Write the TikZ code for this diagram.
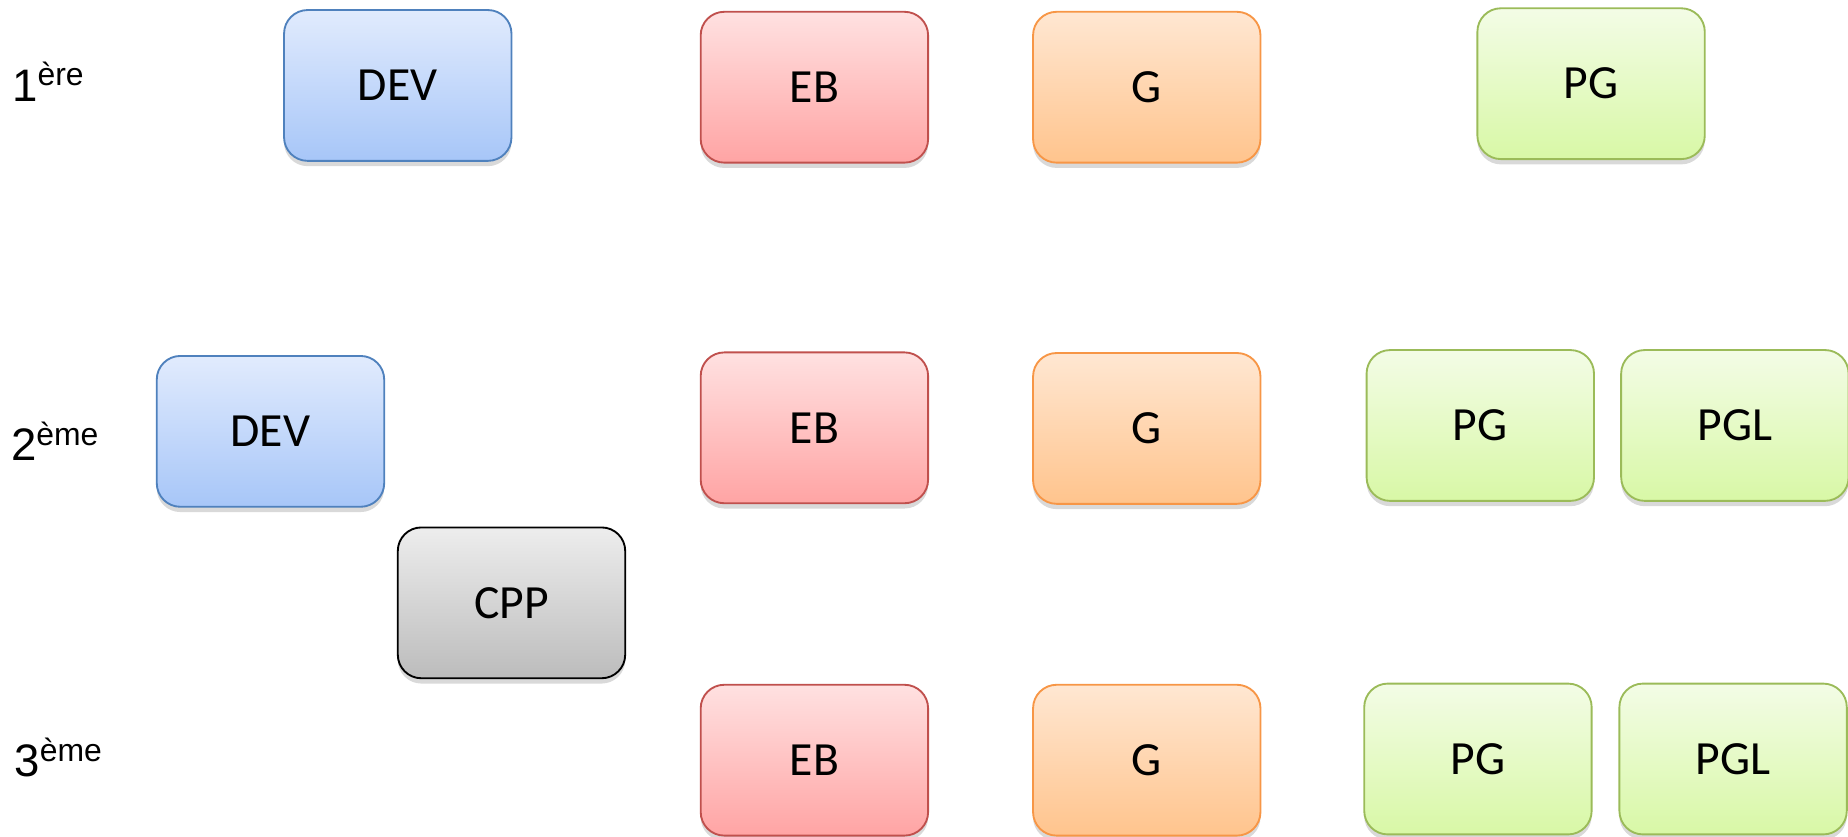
\documentclass[tikz,border=0pt]{standalone}
\usepackage{fontspec}
\setmainfont{Carlito}
\newfontfamily\arialf{Liberation Sans}
\usetikzlibrary{shadows}
\definecolor{bluetop}{HTML}{E1EBFD}
\definecolor{bluebot}{HTML}{A7C6F8}
\definecolor{blueedge}{HTML}{4F81BD}
\definecolor{redtop}{HTML}{FFE1E1}
\definecolor{redbot}{HTML}{FFA4A4}
\definecolor{rededge}{HTML}{C0504D}
\definecolor{ortop}{HTML}{FFE7D2}
\definecolor{orbot}{HTML}{FFC48D}
\definecolor{oredge}{HTML}{F79646}
\definecolor{grtop}{HTML}{F3FCE6}
\definecolor{grbot}{HTML}{D8F8A6}
\definecolor{gredge}{HTML}{9BBB59}
\definecolor{gytop}{HTML}{EDEDED}
\definecolor{gybot}{HTML}{BCBCBC}
\tikzset{
  box/.style={rounded corners=0.4cm, minimum width=3.86cm, minimum height=2.56cm,
    inner sep=0pt, line width=0.9pt, font=\fontsize{23}{27}\selectfont,
    drop shadow={shadow xshift=0pt, shadow yshift=-0.09cm, opacity=0.3}},
  devbox/.style={box, draw=blueedge, top color=bluetop, bottom color=bluebot},
  ebbox/.style={box, draw=rededge, top color=redtop, bottom color=redbot},
  gbox/.style={box, draw=oredge, top color=ortop, bottom color=orbot},
  pgbox/.style={box, draw=gredge, top color=grtop, bottom color=grbot},
  cppbox/.style={box, draw=black, top color=gytop, bottom color=gybot},
  yearlabel/.style={anchor=base west, inner sep=0pt, font=\arialf\fontsize{22}{26}\selectfont}
}
\begin{document}
\begin{tikzpicture}[x=0.02cm, y=-0.02cm]
\useasboundingbox (0,0) rectangle (1568,710);
% year labels
\node[yearlabel] (y1) at (10,86) {1\textsuperscript{ère}};
\node[yearlabel] (y2) at (9,391) {2\textsuperscript{ème}};
\node[yearlabel] (y3) at (12,659) {3\textsuperscript{ème}};
% row 1
\node[devbox] (dev1) at (337.5,72.5) {DEV};
\node[ebbox] (eb1) at (691,74) {EB};
\node[gbox] (g1) at (973,74) {G};
\node[pgbox] (pg1) at (1350,71) {PG};
% row 2
\node[devbox] (dev2) at (229.5,366) {DEV};
\node[ebbox] (eb2) at (691,363) {EB};
\node[gbox] (g2) at (973,363.5) {G};
\node[pgbox] (pg2) at (1256,361) {PG};
\node[pgbox] (pgl2) at (1472,361) {PGL};
\node[cppbox] (cpp) at (434,511.5) {CPP};
% row 3
\node[ebbox] (eb3) at (691,645) {EB};
\node[gbox] (g3) at (973,645) {G};
\node[pgbox] (pg3) at (1254,644) {PG};
\node[pgbox] (pgl3) at (1470.5,644) {PGL};
\end{tikzpicture}
\end{document}
